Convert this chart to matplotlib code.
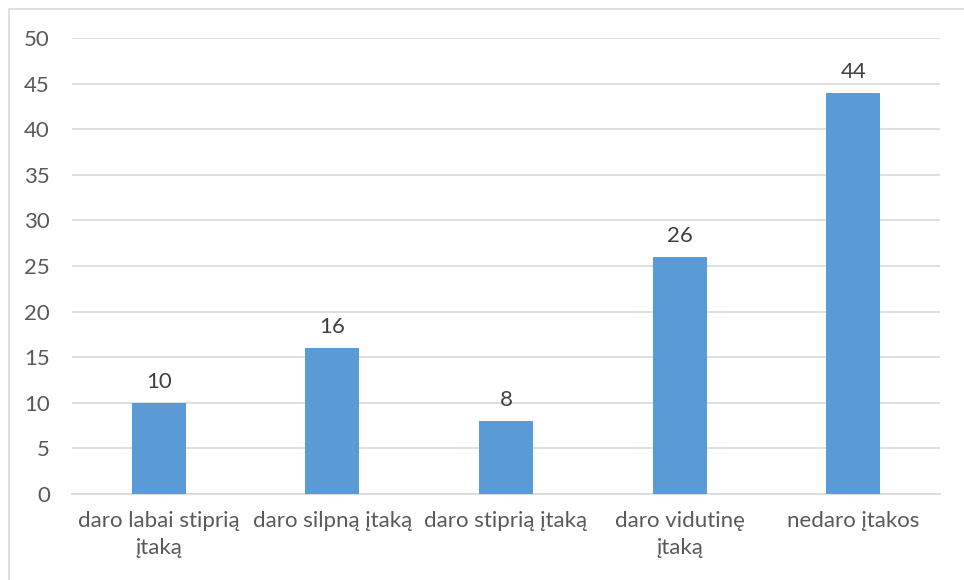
import matplotlib
matplotlib.use("Agg")
import matplotlib.pyplot as plt
from matplotlib.patches import Rectangle

categories = ["daro labai stiprią\nįtaką", "daro silpną įtaką", "daro stiprią įtaką",
              "daro vidutinę\nįtaką", "nedaro įtakos"]
values = [10, 16, 8, 26, 44]
y_ticks = [0, 5, 10, 15, 20, 25, 30, 35, 40, 45, 50]

text_color = "#595959"
grid_color = "#D9D9D9"
bar_color = "#5B9BD5"

plt.rcParams["font.family"] = ["Lato", "DejaVu Sans"]

W, H = 964, 580
fig = plt.figure(figsize=(W / 100, H / 100), dpi=100)
fig.patch.set_facecolor("white")

# chart frame
fig.patches.append(Rectangle((9 / W, -0.1), 1.2, (H - 9) / H + 0.1,
                             transform=fig.transFigure, fill=False,
                             edgecolor="#D9D9D9", linewidth=1.2))

ax = fig.add_axes([72 / W, (H - 494) / H, (940 - 72) / W, (494 - 38) / H])
x = range(len(categories))
bars = ax.bar(x, values, width=0.31, color=bar_color, zorder=3)

ax.set_xlim(-0.5, len(categories) - 0.5)
ax.set_ylim(0, 50)
ax.set_yticks(y_ticks)
ax.set_yticklabels([str(v) for v in y_ticks])
ax.set_xticks(list(x))
ax.set_xticklabels(categories, linespacing=1.45)

ax.grid(axis="y", color=grid_color, linewidth=1.2, zorder=0)
for s in ["top", "right", "left"]:
    ax.spines[s].set_visible(False)
ax.spines["bottom"].set_color(grid_color)
ax.spines["bottom"].set_linewidth(1.2)
ax.tick_params(axis="both", length=0, labelsize=16, colors=text_color)
ax.tick_params(axis="y", pad=16)
ax.tick_params(axis="x", pad=12)

for rect, v in zip(bars, values):
    ax.annotate(str(v), (rect.get_x() + rect.get_width() / 2, v),
                xytext=(0, 8), textcoords="offset points",
                ha="center", va="bottom", fontsize=16, color="#404040")

fig.savefig("out.png", dpi=100, facecolor="white")
